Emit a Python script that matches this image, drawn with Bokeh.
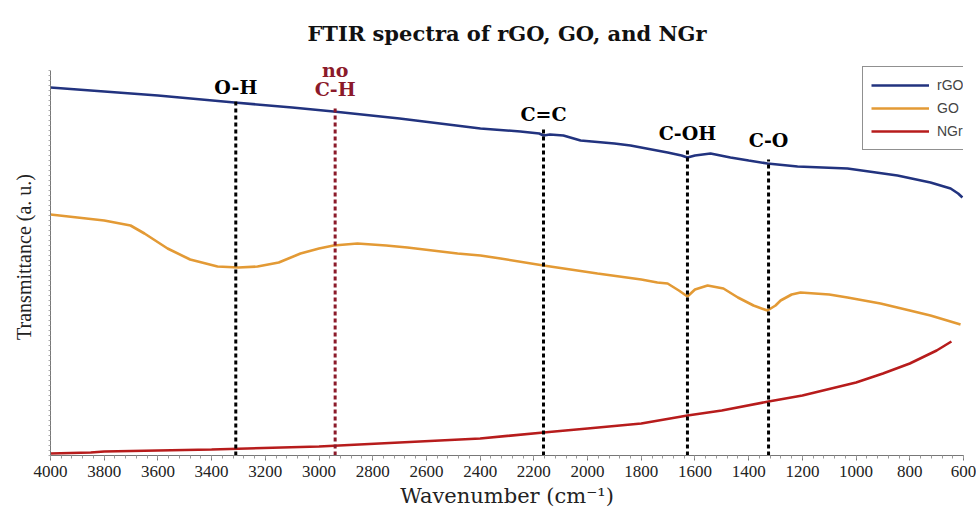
from bokeh.plotting import figure
from bokeh.models import (Range1d, SingleIntervalTicker, FixedTicker, Label, Legend,
                          LegendItem, ColumnDataSource, Title)
from bokeh.embed import file_html
from bokeh.resources import INLINE

# ---- data (transmittance in arbitrary units) ----
rgo_wn = [4000, 3800, 3600, 3315, 3100, 2946, 2700, 2399, 2250, 2180, 2164, 2140, 2090, 2026,
          1900, 1840, 1702, 1650, 1628, 1600, 1542, 1468, 1400, 1330, 1218, 1032, 846, 723, 648, 620, 604]
rgo_t = [368, 364, 360, 353, 348, 344, 337, 327, 324, 322, 320, 321, 320, 315,
         312, 310, 303, 300, 298, 300, 302, 298, 295, 292, 289, 287, 280, 273, 267, 262, 258]

go_wn = [4000, 3900, 3800, 3702, 3650, 3564, 3480, 3378, 3300, 3229, 3150, 3069, 3000, 2946,
         2857, 2750, 2671, 2484, 2399, 2324, 2164, 1963, 1800, 1740, 1702, 1660, 1628, 1600,
         1553, 1494, 1440, 1382, 1330, 1300, 1281, 1240, 1207, 1100, 1032, 909, 800, 723, 611]
go_t = [241, 238, 235, 230, 222, 207, 196, 189, 188, 189, 193, 202, 207, 210,
        212, 210, 208, 202, 200, 197, 190, 182, 176, 173, 172, 165, 159, 166,
        170, 167, 158, 150, 145, 150, 155, 161, 163, 161, 158, 152, 145, 140, 131]

ngr_wn = [4000, 3850, 3800, 3600, 3400, 3000, 2700, 2400, 2164, 2000, 1800, 1628, 1500,
          1326, 1200, 1000, 900, 800, 700, 645]
ngr_t = [2, 3, 4, 5, 6, 9, 13, 17, 23, 27, 32, 40, 45, 54, 60, 73, 82, 92, 105, 114]

band_wn = [3310, 2940, 2164, 1628, 1326]
band_top = [356, 347, 328, 308, 296]
band_labels = ["O-H", "C-H", "C=C", "C-OH", "C-O"]
band_label_y = [369, 367, 342, 323, 316]
band_colors = ["#000000", "#8B1A2A", "#000000", "#000000", "#000000"]

series_names = ["rGO", "GO", "NGr"]
series_colors = ["#22337F", "#E39A35", "#B71C1C"]

SERIF = "DejaVu Serif"
TIMES = "Liberation Serif"

p = figure(width=976, height=512, output_backend="svg", toolbar_location=None,
           x_range=Range1d(4000, 600), y_range=Range1d(0, 397),
           min_border_left=50, min_border_right=13, min_border_top=58, min_border_bottom=57)
p.outline_line_color = None
p.xgrid.visible = False
p.ygrid.visible = False
p.background_fill_color = "white"

p.add_layout(Title(text="FTIR spectra of rGO, GO, and NGr", align="center",
                   text_font=SERIF, text_font_style="bold", text_font_size="21px",
                   text_color="#111111", standoff=26), "above")

renderers = []
for wn, t, c in zip([rgo_wn, go_wn, ngr_wn], [rgo_t, go_t, ngr_t], series_colors):
    r = p.line(wn, t, line_color=c, line_width=2.6)
    renderers.append(r)

src = ColumnDataSource(dict(x=band_wn, y0=[0] * len(band_wn), y1=band_top, c=band_colors))
p.segment(x0="x", y0="y0", x1="x", y1="y1", source=src, line_color="c",
          line_width=3, line_dash="4 3")

for wn, lab, ly, col in zip(band_wn, band_labels, band_label_y, band_colors):
    p.add_layout(Label(x=wn, y=ly, text=lab, text_align="center", text_baseline="middle",
                       text_font=SERIF, text_font_style="bold", text_font_size="19px",
                       text_color=col))
p.add_layout(Label(x=band_wn[1], y=386, text="no", text_align="center", text_baseline="middle",
                   text_font=SERIF, text_font_style="bold", text_font_size="19px",
                   text_color=band_colors[1]))

# axes
xa = p.xaxis[0]
xa.ticker = SingleIntervalTicker(interval=200, num_minor_ticks=5)
xa.axis_label = "Wavenumber (cm\u207b\u00b9)"
xa.axis_label_text_font = SERIF
xa.axis_label_text_font_style = "normal"
xa.axis_label_text_font_size = "21px"
xa.axis_label_text_color = "#222222"
xa.axis_label_standoff = 4
xa.major_label_text_font = TIMES
xa.major_label_text_font_size = "17px"
xa.major_label_text_color = "#222222"
xa.major_label_standoff = 5
xa.axis_line_color = "#777777"
xa.major_tick_line_color = "#777777"
xa.minor_tick_line_color = "#999999"
xa.major_tick_out = 5
xa.major_tick_in = 0
xa.minor_tick_out = 3
xa.minor_tick_in = 0

ya = p.yaxis[0]
ya.ticker = FixedTicker(ticks=[], minor_ticks=list(range(0, 386, 5)))
ya.bounds = (0, 385)
ya.axis_label = "Transmittance (a. u.)"
ya.axis_label_text_font = TIMES
ya.axis_label_text_font_style = "normal"
ya.axis_label_text_font_size = "20px"
ya.axis_label_text_color = "#222222"
ya.axis_label_standoff = 14
ya.axis_line_color = "#777777"
ya.major_tick_line_color = "#999999"
ya.minor_tick_line_color = "#aaaaaa"
ya.major_tick_out = 3
ya.major_tick_in = 0
ya.minor_tick_out = 2
ya.minor_tick_in = 0

legend = Legend(items=[LegendItem(label=n, renderers=[r]) for n, r in zip(series_names, renderers)],
                location=(812, 305), label_text_font="Liberation Sans",
                label_text_font_size="14px", glyph_width=58, glyph_height=20,
                label_height=20, label_standoff=8, spacing=3, padding=8, margin=0,
                border_line_color="#222222", border_line_width=1,
                background_fill_color="white", background_fill_alpha=1.0)
p.add_layout(legend)

open("out.html", "w").write(file_html(p, INLINE))
